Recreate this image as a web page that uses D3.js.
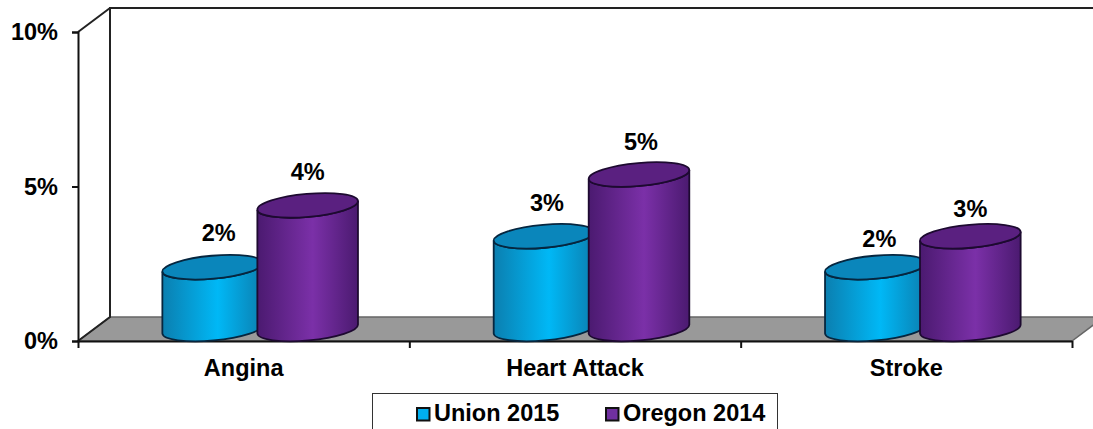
<!DOCTYPE html>
<html>
<head>
<meta charset="utf-8">
<script src="https://cdn.jsdelivr.net/npm/d3@7"></script>
<style>
  html, body { margin: 0; padding: 0; background: #fff; overflow: hidden; }
  svg { display: block; }
  text { font-family: "Liberation Sans", Arial, sans-serif; font-weight: bold; fill: #000; font-size: 23.5px; }
  .axis path.domain, .axis line { stroke: #111; stroke-width: 2px; }
</style>
</head>
<body>
<svg id="chart" width="1093" height="429"></svg>
<script>
const categories = ['Angina', 'Heart Attack', 'Stroke'];
const seriesNames = ['Union 2015', 'Oregon 2014'];
const union2015 = [2, 3, 2];
const oregon2014 = [4, 5, 3];
const yTicks = [0, 5, 10];

// front plane of the 3D box
const boxLeft = 78, boxRight = 1072, boxTop = 32, boxBottom = 341;
const depthX = 32, depthY = -24;
const cylRx = 50.5, cylRy = 11.5, tilt = -5.1;

const svg = d3.select('#chart');

const yScale = d3.scaleLinear().domain([0, 10]).range([boxBottom, boxTop]);
const xScale = d3.scaleBand().domain(categories).range([boxLeft, boxRight]);
const xTickScale = d3.scaleLinear().domain([0, 3]).range([boxLeft, boxRight]);
const seriesScale = d3.scaleBand().domain(seriesNames).range([-94.5, 95.5]);

const colors = {
  'Union 2015': {edge: '#0b7fb0', mid: '#00b8f6', cap: '#0a86bb', line: '#06263f', swatch: '#00b0f0'},
  'Oregon 2014': {edge: '#4b1a70', mid: '#7b30a8', cap: '#5a2080', line: '#1d0a30', swatch: '#7030a0'}
};

const defs = svg.append('defs');
seriesNames.forEach((s, i) => {
  const g = defs.append('linearGradient').attr('id', 'cyl' + i);
  g.append('stop').attr('offset', '0%').attr('stop-color', colors[s].edge);
  g.append('stop').attr('offset', '55%').attr('stop-color', colors[s].mid);
  g.append('stop').attr('offset', '100%').attr('stop-color', colors[s].edge);
});

// Floor and back wall
const floorPts = [[boxLeft, boxBottom], [boxLeft + depthX, boxBottom + depthY], [boxRight + depthX, boxBottom + depthY], [boxRight, boxBottom]];
svg.append('polygon')
    .attr('points', floorPts.join(' '))
    .attr('fill', '#999999')
    .attr('stroke', '#666')
    .attr('stroke-width', 1.5);

const wall = d3.path();
wall.moveTo(boxLeft, yScale(0));
wall.lineTo(boxLeft + depthX, yScale(0) + depthY);
wall.lineTo(boxLeft + depthX, yScale(10) + depthY);
wall.lineTo(1093, yScale(10) + depthY);
wall.moveTo(boxLeft, yScale(10));
wall.lineTo(boxLeft + depthX, yScale(10) + depthY);
svg.append('path')
    .attr('d', wall.toString())
    .attr('fill', 'none')
    .attr('stroke', '#222')
    .attr('stroke-width', 2);

// Axes
const yAxis = d3.axisLeft(yScale)
    .tickValues(yTicks)
    .tickSize(6)
    .tickPadding(14)
    .tickFormat(d => d + '%');
svg.append('g').attr('class', 'axis y-axis')
    .attr('transform', `translate(${boxLeft},0)`)
    .call(yAxis);

const xAxis = d3.axisBottom(xTickScale)
    .tickValues([0, 1, 2, 3])
    .tickSize(7)
    .tickSizeOuter(0)
    .tickFormat('');
svg.append('g').attr('class', 'axis x-axis')
    .attr('transform', `translate(0,${boxBottom})`)
    .call(xAxis);

const xLabels = d3.axisBottom(xScale).tickSize(0).tickPadding(18);
const xLabelG = svg.append('g')
    .attr('transform', `translate(0,${boxBottom})`)
    .call(xLabels);
xLabelG.select('.domain').remove();

// Cylinders
const rad = tilt * Math.PI / 180;
const dx = cylRx * Math.cos(rad), dy = cylRx * Math.sin(rad);

function bodyPath(cx, yTop, yBase) {
  return `M${cx - dx},${yTop - dy}`
    + `L${cx - dx},${yBase - dy}`
    + `A${cylRx},${cylRy} ${tilt} 0 0 ${cx + dx},${yBase + dy}`
    + `L${cx + dx},${yTop + dy}`
    + `A${cylRx},${cylRy} ${tilt} 0 1 ${cx - dx},${yTop - dy}Z`;
}

const rows = [];
seriesNames.forEach((s, si) => {
  const vals = si === 0 ? union2015 : oregon2014;
  categories.forEach((c, ci) => rows.push({series: s, si, cat: c, ci, value: vals[ci]}));
});

const cxOf = d => xScale(d.cat) + xScale.bandwidth() / 2 + depthX / 2
    + seriesScale(d.series) + seriesScale.bandwidth() / 2;
const yOf = v => yScale(v) + depthY / 2;

const bars = svg.selectAll('.cylinder')
    .data(rows)
    .join('g')
    .attr('class', 'cylinder');

bars.append('path')
    .attr('d', d => bodyPath(cxOf(d), yOf(d.value), yOf(0)))
    .attr('fill', d => `url(#cyl${d.si})`)
    .attr('stroke', d => colors[d.series].line)
    .attr('stroke-width', 1.8);

bars.append('ellipse')
    .attr('cx', 0)
    .attr('cy', 0)
    .attr('rx', cylRx)
    .attr('ry', cylRy)
    .attr('transform', d => `translate(${cxOf(d)},${yOf(d.value)}) rotate(${tilt})`)
    .attr('fill', d => colors[d.series].cap)
    .attr('stroke', d => colors[d.series].line)
    .attr('stroke-width', 1.8);

// Data labels, hand placed in the original so each has a small nudge
const labelNudge = {
  'Union 2015': [[6, 0], [3, 1], [4, 6]],
  'Oregon 2014': [[0, 1], [2, 1], [0, 7]]
};
svg.selectAll('.value-label')
    .data(rows)
    .join('text')
    .attr('class', 'value-label')
    .attr('text-anchor', 'middle')
    .attr('x', d => cxOf(d) + labelNudge[d.series][d.ci][0])
    .attr('y', d => yOf(d.value) - 26 + labelNudge[d.series][d.ci][1])
    .text(d => d.value + '%');

// Legend
svg.append('rect')
    .attr('x', 372.5)
    .attr('y', 393.5)
    .attr('width', 405)
    .attr('height', 50)
    .attr('fill', '#fff')
    .attr('stroke', '#333')
    .attr('stroke-width', 1);

const legendX = d3.scaleOrdinal().domain(seriesNames).range([416, 605]);
const legend = svg.selectAll('.legend-item')
    .data(seriesNames)
    .join('g')
    .attr('class', 'legend-item')
    .attr('transform', d => `translate(${legendX(d)},407)`);

legend.append('rect')
    .attr('x', 1)
    .attr('y', 1)
    .attr('width', 12.5)
    .attr('height', 12.5)
    .attr('fill', d => colors[d].swatch)
    .attr('stroke', '#111')
    .attr('stroke-width', 2);

legend.append('text')
    .attr('x', 18)
    .attr('y', 14)
    .text(d => d);
</script>
</body>
</html>
